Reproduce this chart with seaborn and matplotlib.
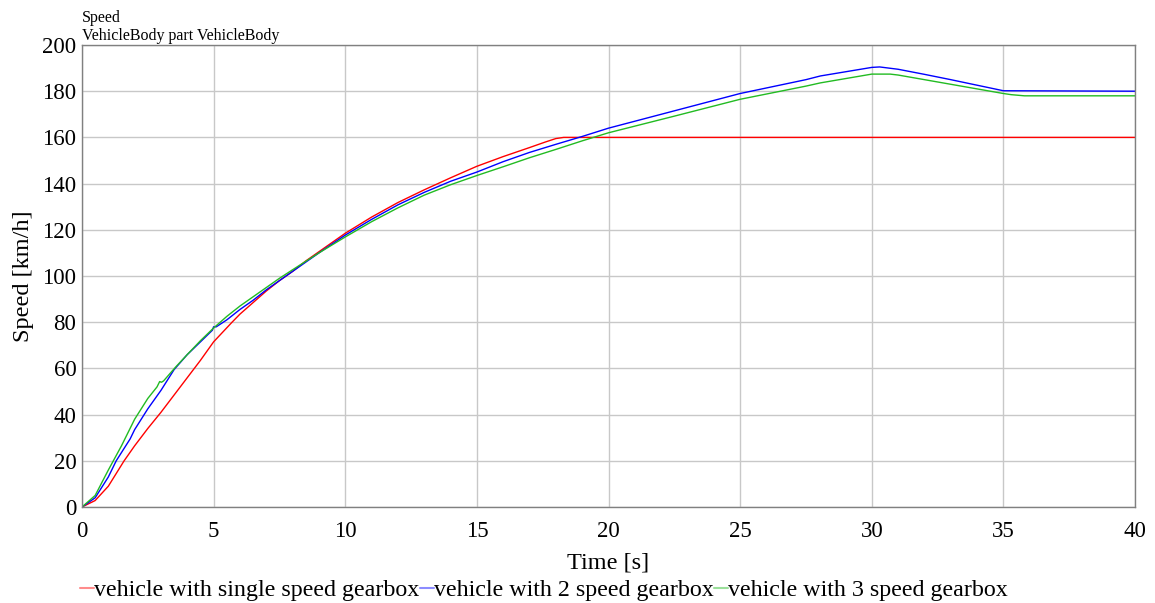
import matplotlib
matplotlib.use("Agg")
import matplotlib.pyplot as plt
import seaborn as sns
import pandas as pd
from matplotlib.lines import Line2D

# ---- data ----
t_single = [0, 0.5, 1.0, 1.6, 2.0, 2.5, 3.0, 3.5, 4.0, 4.5, 5.0, 5.7, 6.0, 6.5, 7.0, 7.5, 8.0, 8.5,
            9.0, 9.5, 10.0, 11.0, 12.0, 13.0, 14.0, 15.0, 16.0, 17.0, 17.6, 18.0, 18.3, 25.0, 30.0,
            35.0, 40.0]
v_single = [0, 2.8, 9, 20, 26.5, 34, 41, 48.5, 56, 63.5, 71.5, 80, 83.5, 88.5, 93.5, 98, 102, 106.5,
            110.5, 114.5, 118.5, 125.5, 131.8, 137.3, 142.5, 147.5, 151.7, 155.6, 158, 159.5, 160,
            160, 160, 160, 160]

t_two = [0, 0.5, 1.0, 1.3, 1.83, 2.0, 2.5, 3.0, 3.5, 4.0, 4.5, 4.95, 5.0, 5.1, 5.5, 6.0, 6.5, 7.0,
         7.5, 8.0, 9.0, 10.0, 11.0, 12.0, 13.0, 14.0, 15.0, 16.0, 17.0, 18.0, 19.0, 20.0, 22.5,
         25.0, 27.5, 28.05, 30.0, 30.3, 31.0, 32.0, 33.0, 34.0, 35.0, 40.0]
v_two = [0, 4, 13, 20, 29.5, 33.5, 42.5, 50.5, 59.5, 66, 71.5, 76.5, 78, 78, 81, 85.5, 89.5, 94,
         98, 102, 110, 117.7, 124.5, 130.8, 136.2, 141, 145, 149.5, 153.5, 157, 160.4, 164, 171.5,
         179, 185, 186.6, 190.3, 190.5, 189.5, 187.3, 185, 182.6, 180.2, 180]

t_three = [0, 0.5, 1.0, 1.5, 2.0, 2.5, 2.85, 2.95, 3.02, 3.1, 3.55, 4.0, 4.5, 5.0, 5.5, 6.0, 6.5,
           7.0, 7.5, 8.0, 9.0, 10.0, 11.0, 12.0, 13.0, 14.0, 15.0, 16.0, 17.0, 18.0, 19.0, 20.0,
           22.5, 25.0, 27.5, 28.05, 30.0, 30.7, 31.0, 32.0, 33.0, 34.0, 35.0, 35.3, 35.8, 40.0]
v_three = [0, 5, 16, 26.5, 38, 47, 52, 54.3, 54, 54.6, 60.5, 66, 72, 77.5, 82.5, 87, 91, 95, 99,
           102.7, 110, 116.9, 123.5, 129.5, 135, 139.5, 143.5, 147.3, 151.2, 154.8, 158.5, 162,
           169.2, 176.5, 182.2, 183.6, 187.4, 187.4, 187, 185, 183, 181, 179, 178.5, 178, 178]

labels = ["vehicle with single speed gearbox", "vehicle with 2 speed gearbox",
          "vehicle with 3 speed gearbox"]
colors = ["#ff0000", "#0000ff", "#22bb22"]
x_ticks = [0, 5, 10, 15, 20, 25, 30, 35, 40]
y_ticks = [0, 20, 40, 60, 80, 100, 120, 140, 160, 180, 200]

# ---- styling ----
sns.set_style("white")
plt.rcParams["font.family"] = ["Liberation Serif", "DejaVu Serif"]
plt.rcParams["text.color"] = "black"
plt.rcParams["axes.labelcolor"] = "black"
plt.rcParams["xtick.color"] = "black"
plt.rcParams["ytick.color"] = "black"

fig = plt.figure(figsize=(11.55, 6.03), dpi=100)
ax = fig.add_axes([82 / 1155, 1 - 507 / 603, (1135 - 82) / 1155, (507 - 45) / 603])

series = [(t_single, v_single), (t_two, v_two), (t_three, v_three)]
for (t, v), lab, col in zip(series, labels, colors):
    df = pd.DataFrame({"t": t, "v": v})
    sns.lineplot(data=df, x="t", y="v", ax=ax, color=col, linewidth=1.0,
                 estimator=None, sort=False, label=lab)

ax.set_xlim(0, 40)
ax.set_ylim(0, 200)
ax.set_xticks(x_ticks)
ax.set_yticks(y_ticks)
ax.tick_params(axis="both", labelsize=16.5, direction="in", length=5, color="#707070",
               labelcolor="black", width=1)
ax.tick_params(axis="x", pad=10)
ax.tick_params(axis="y", pad=4)
ax.grid(True, color="#c8c8c8", linewidth=1)
for s in ax.spines.values():
    s.set_color("#808080")
    s.set_linewidth(1)
ax.set_xlabel("Time [s]", fontsize=17.5, labelpad=8, color="black")
ax.set_ylabel("Speed [km/h]", fontsize=17.5, labelpad=6, color="black")

ax.get_legend().remove()
handles = [Line2D([0], [0], color=c, linewidth=1.5, alpha=0.45) for c in colors]
fig.legend(handles, labels, loc="center left", bbox_to_anchor=(80 / 1155, 1 - 590 / 603),
           ncol=3, frameon=False, fontsize=17.3, handlelength=0.6, handletextpad=0.0,
           columnspacing=0.0, borderaxespad=0, borderpad=0, labelcolor="black")

fig.text(82 / 1155, 1 - 18 / 603, "Speed", fontsize=11.5, ha="left", va="center",
         color="black")
fig.text(82 / 1155, 1 - 36 / 603, "VehicleBody part VehicleBody", fontsize=11.5,
         ha="left", va="center", color="black")

fig.savefig("out.png", dpi=100)
